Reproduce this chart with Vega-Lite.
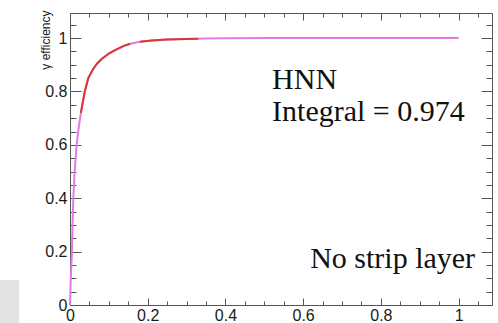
{
  "$schema": "https://vega.github.io/schema/vega-lite/v6.json",
  "width": 422,
  "height": 292,
  "autosize": "none",
  "padding": {"left": 70, "top": 13, "right": 6, "bottom": 18},
  "background": "white",
  "config": {
    "view": {"stroke": "#555555", "strokeWidth": 1},
    "axis": {
      "grid": false,
      "domain": false,
      "tickColor": "#555555",
      "tickWidth": 1,
      "labelFont": "Liberation Sans",
      "labelFontSize": 16,
      "labelColor": "#1a1a1a",
      "labelFlush": false,
      "labelOverlap": false,
      "format": "~g",
      "titleFont": "Liberation Sans",
      "titleFontWeight": "normal",
      "titleColor": "#1a1a1a"
    }
  },
  "datasets": {
    "curve": [
      {"x": 0, "y": 0, "s": "m"},
      {"x": 0.001, "y": 0.05, "s": "m"},
      {"x": 0.002, "y": 0.1, "s": "m"},
      {"x": 0.0035, "y": 0.15, "s": "m"},
      {"x": 0.005, "y": 0.2, "s": "m"},
      {"x": 0.0065, "y": 0.3, "s": "m"},
      {"x": 0.0085, "y": 0.4, "s": "m"},
      {"x": 0.012, "y": 0.5, "s": "m"},
      {"x": 0.017, "y": 0.6, "s": "m"},
      {"x": 0.022, "y": 0.66, "s": "m"},
      {"x": 0.028, "y": 0.72, "s": "m"},
      {"x": 0.033, "y": 0.76, "s": "m"},
      {"x": 0.038, "y": 0.8, "s": "m"},
      {"x": 0.047, "y": 0.85, "s": "m"},
      {"x": 0.06, "y": 0.885, "s": "m"},
      {"x": 0.07, "y": 0.905, "s": "m"},
      {"x": 0.08, "y": 0.92, "s": "m"},
      {"x": 0.1, "y": 0.942, "s": "m"},
      {"x": 0.116, "y": 0.955, "s": "m"},
      {"x": 0.14, "y": 0.972, "s": "m"},
      {"x": 0.155, "y": 0.979, "s": "m"},
      {"x": 0.18, "y": 0.986, "s": "m"},
      {"x": 0.21, "y": 0.991, "s": "m"},
      {"x": 0.25, "y": 0.995, "s": "m"},
      {"x": 0.3, "y": 0.997, "s": "m"},
      {"x": 0.35, "y": 0.998, "s": "m"},
      {"x": 0.4, "y": 0.999, "s": "m"},
      {"x": 0.5, "y": 1.0, "s": "m"},
      {"x": 0.6, "y": 1.0, "s": "m"},
      {"x": 0.7, "y": 1.0, "s": "m"},
      {"x": 0.8, "y": 1.0, "s": "m"},
      {"x": 0.9, "y": 1.0, "s": "m"},
      {"x": 1.0, "y": 1.0, "s": "m"},
      {"x": 0.028, "y": 0.72, "s": "r1"},
      {"x": 0.033, "y": 0.76, "s": "r1"},
      {"x": 0.038, "y": 0.8, "s": "r1"},
      {"x": 0.047, "y": 0.85, "s": "r1"},
      {"x": 0.06, "y": 0.885, "s": "r1"},
      {"x": 0.07, "y": 0.905, "s": "r1"},
      {"x": 0.08, "y": 0.92, "s": "r1"},
      {"x": 0.1, "y": 0.942, "s": "r1"},
      {"x": 0.116, "y": 0.955, "s": "r1"},
      {"x": 0.14, "y": 0.972, "s": "r1"},
      {"x": 0.155, "y": 0.979, "s": "r1"},
      {"x": 0.18, "y": 0.986, "s": "r2"},
      {"x": 0.21, "y": 0.991, "s": "r2"},
      {"x": 0.25, "y": 0.995, "s": "r2"},
      {"x": 0.3, "y": 0.997, "s": "r2"},
      {"x": 0.33, "y": 0.9975, "s": "r2"}
    ],
    "notes": [
      {"x": 0.52, "y": 0.811, "t": "HNN", "a": "l"},
      {"x": 0.52, "y": 0.691, "t": "Integral = 0.974", "a": "l"},
      {"x": 1.0425, "y": 0.137, "t": "No strip layer", "a": "r"}
    ],
    "patch": [
      {"x": -0.181, "x2": -0.131, "y": 0.094, "y2": -0.068}
    ]
  },
  "layer": [
    {
      "data": {"name": "curve"},
      "transform": [{"filter": "datum.s === 'm'"}],
      "mark": {"type": "line", "color": "#e07ae6", "strokeWidth": 2},
      "encoding": {
        "x": {
          "field": "x", "type": "quantitative",
          "scale": {"domain": [0, 1.086], "nice": false, "zero": false},
          "axis": {"orient": "bottom", "title": null, "values": [0, 0.2, 0.4, 0.6, 0.8, 1], "tickSize": -7, "labelPadding": 9, "labelBaseline": "top", "labelAlign": "center", "labelFontSize": 16}
        },
        "y": {
          "field": "y", "type": "quantitative",
          "scale": {"domain": [0, 1.094], "nice": false, "zero": false},
          "axis": {"orient": "left", "title": "γ efficiency", "titleFontSize": 12, "titleAngle": -90, "titleX": -25, "titleY": -3, "titleAlign": "right", "titleBaseline": "middle", "values": [0, 0.2, 0.4, 0.6, 0.8, 1], "tickSize": -11, "labelPadding": 14}
        }
      }
    },
    {
      "data": {"name": "curve"},
      "transform": [{"filter": "datum.s !== 'm'"}],
      "mark": {"type": "line", "color": "#d83a32", "strokeWidth": 2},
      "encoding": {
        "detail": {"field": "s"},
        "x": {
          "field": "x", "type": "quantitative",
          "scale": {"domain": [0, 1.086], "nice": false, "zero": false},
          "axis": {"orient": "bottom", "title": null, "labels": false, "values": [0.05, 0.1, 0.15, 0.25, 0.3, 0.35, 0.45, 0.5, 0.55, 0.65, 0.7, 0.75, 0.85, 0.9, 0.95, 1.05], "tickSize": -4}
        },
        "y": {
          "field": "y", "type": "quantitative",
          "scale": {"domain": [0, 1.094], "nice": false, "zero": false},
          "axis": {"orient": "left", "title": null, "labels": false, "values": [0.05, 0.1, 0.15, 0.25, 0.3, 0.35, 0.45, 0.5, 0.55, 0.65, 0.7, 0.75, 0.85, 0.9, 0.95, 1.05], "tickSize": -6}
        }
      }
    },
    {
      "data": {"name": "notes"},
      "transform": [{"filter": "datum.a === 'l'"}],
      "mark": {"type": "text", "align": "left", "baseline": "alphabetic", "font": "Liberation Serif", "fontSize": 30, "color": "#111111"},
      "encoding": {
        "text": {"field": "t"},
        "x": {
          "field": "x", "type": "quantitative",
          "scale": {"domain": [0, 1.086], "nice": false, "zero": false},
          "axis": {"orient": "top", "title": null, "labels": false, "values": [0, 0.2, 0.4, 0.6, 0.8, 1], "tickSize": -7}
        },
        "y": {
          "field": "y", "type": "quantitative",
          "scale": {"domain": [0, 1.094], "nice": false, "zero": false},
          "axis": {"orient": "right", "title": null, "labels": false, "values": [0, 0.2, 0.4, 0.6, 0.8, 1], "tickSize": -11}
        }
      }
    },
    {
      "data": {"name": "notes"},
      "transform": [{"filter": "datum.a === 'r'"}],
      "mark": {"type": "text", "align": "right", "baseline": "alphabetic", "font": "Liberation Serif", "fontSize": 30, "color": "#111111"},
      "encoding": {
        "text": {"field": "t"},
        "x": {
          "field": "x", "type": "quantitative",
          "scale": {"domain": [0, 1.086], "nice": false, "zero": false},
          "axis": {"orient": "top", "title": null, "labels": false, "values": [0.05, 0.1, 0.15, 0.25, 0.3, 0.35, 0.45, 0.5, 0.55, 0.65, 0.7, 0.75, 0.85, 0.9, 0.95, 1.05], "tickSize": -4}
        },
        "y": {
          "field": "y", "type": "quantitative",
          "scale": {"domain": [0, 1.094], "nice": false, "zero": false},
          "axis": {"orient": "right", "title": null, "labels": false, "values": [0.05, 0.1, 0.15, 0.25, 0.3, 0.35, 0.45, 0.5, 0.55, 0.65, 0.7, 0.75, 0.85, 0.9, 0.95, 1.05], "tickSize": -6}
        }
      }
    },
    {
      "data": {"name": "patch"},
      "mark": {"type": "rect", "color": "#e3e3e3", "clip": false},
      "encoding": {
        "x": {"field": "x", "type": "quantitative", "scale": {"domain": [0, 1.086], "nice": false, "zero": false}, "axis": null},
        "x2": {"field": "x2"},
        "y": {"field": "y", "type": "quantitative", "scale": {"domain": [0, 1.094], "nice": false, "zero": false}, "axis": null},
        "y2": {"field": "y2"}
      }
    }
  ],
  "resolve": {"axis": {"x": "independent", "y": "independent"}}
}
